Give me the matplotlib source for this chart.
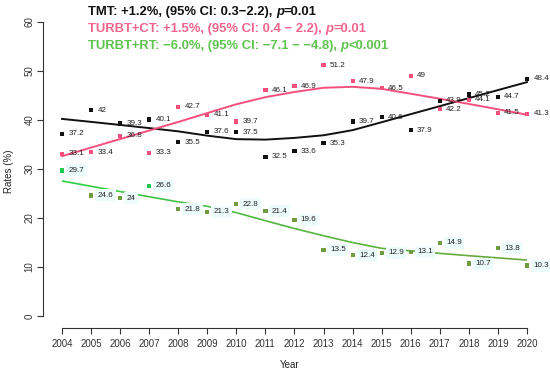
import numpy as np
import matplotlib
matplotlib.use('Agg')
import matplotlib.pyplot as plt
from matplotlib.collections import LineCollection
from matplotlib.colors import to_rgb

years = np.arange(2004, 2021)

tmt = [37.2, 42, 39.3, 40.1, 35.5, 37.6, 37.5, 32.5, 33.6, 35.3,
       39.7, 40.6, 37.9, 43.9, 45.2, 44.7, 48.4]
turbt_ct = [33.1, 33.4, 36.8, 33.3, 42.7, 41.1, 39.7, 46.1, 46.9, 51.2,
            47.9, 46.5, 49, 42.2, 44.1, 41.5, 41.3]
turbt_rt = [29.7, 24.6, 24, 26.6, 21.8, 21.3, 22.8, 21.4, 19.6, 13.5,
            12.4, 12.9, 13.1, 14.9, 10.7, 13.8, 10.3]

title_lines = [
    ['TMT: +1.2%, (95% CI: 0.3\u22122.2), ', 'p', '=0.01'],
    ['TURBT+CT: +1.5%, (95% CI: 0.4 \u2212 2.2), ', 'p', '=0.01'],
    ['TURBT+RT: \u22126.0%, (95% CI: \u22127.1 \u2212 \u22124.8), ', 'p', '<0.001'],
]


def lowess(x, y, f=2 / 3, iters=3):
    # robust locally linear smoother, same idea as R's lowess()
    x = np.asarray(x, float)
    y = np.asarray(y, float)
    n = len(x)
    ns = max(min(int(round(f * n)), n), 2)
    rw = np.ones(n)
    fit = np.zeros(n)
    for it in range(iters + 1):
        for i in range(n):
            d = np.abs(x - x[i])
            h = np.sort(d)[ns - 1]
            u = d / h
            w = np.where(u < 0.999, (1 - u ** 3) ** 3, 0.0)
            w[u <= 0.001] = 1.0
            w = w * rw
            sw = w.sum()
            xm = (w * x).sum() / sw
            ym = (w * y).sum() / sw
            sxx = (w * (x - xm) ** 2).sum()
            b = (w * (x - xm) * (y - ym)).sum() / sxx if sxx > 0 else 0.0
            fit[i] = ym + b * (x[i] - xm)
        if it == iters:
            break
        res = y - fit
        cmad = 6 * np.median(np.abs(res))
        r = np.abs(res) / cmad
        rw = np.where(r < 1, (1 - r ** 2) ** 2, 0.0)
        rw[r <= 0.001] = 1.0
    return fit


black = '#111111'
pink = '#f5507c'
green_hi = '#1fc94f'
green_lo = '#6e9c3e'

fig = plt.figure(figsize=(5.5, 3.71), dpi=100)
ax = fig.add_axes([0.0782, 0.1159, 0.9127, 0.8437])
ax.set_xlim(2003.346, 2020.62)
ax.set_ylim(-2.45, 61.43)

ax.plot(years, lowess(years, tmt), color=black, lw=1.4)
ax.plot(years, lowess(years, turbt_ct), color=pink, lw=1.4)

# green smooth drawn with a colour fade from bright to olive
gfit = lowess(years, turbt_rt)
pts = np.column_stack([years, gfit])
segs = np.stack([pts[:-1], pts[1:]], axis=1)
c0, c1 = np.array(to_rgb('#2ccf45')), np.array(to_rgb('#6aa83c'))
tt = np.linspace(0, 1, len(segs)) ** 0.7
ax.add_collection(LineCollection(segs, colors=[c0 + (c1 - c0) * t for t in tt], lw=1.2))

green_cols = [green_hi if i in (0, 3) else green_lo for i in range(len(years))]
series = [(tmt, [black] * len(years), None),
          (turbt_ct, [pink] * len(years), None),
          (turbt_rt, green_cols, '#ebfcfa')]
for vals, cols, bg in series:
    ax.scatter(years, vals, marker='s', s=9, c=cols, zorder=3, linewidths=0)
    for yr, v in zip(years, vals):
        t = ax.text(yr + 0.22, v, f'{v:g}', fontsize=5.8, va='center',
                    ha='left', color='#222222', family='Liberation Sans')
        if bg:
            t.set_bbox(dict(facecolor=bg, edgecolor='none', pad=1.8))

for s in ['top', 'right']:
    ax.spines[s].set_visible(False)
ax.spines['left'].set_bounds(0, 60)
ax.spines['bottom'].set_bounds(2004, 2020)
ax.spines['left'].set_color('#333333')
ax.spines['bottom'].set_color('#333333')
ax.set_yticks(range(0, 61, 10))
ax.set_xticks(years)
ax.tick_params(length=4, width=0.8, colors='#333333', labelsize=7)
ax.tick_params(axis='y', pad=2)
ax.tick_params(axis='x', pad=4)
for lab in ax.get_yticklabels():
    lab.set_rotation(90)
    lab.set_va('center')
for lab in ax.get_xticklabels() + ax.get_yticklabels():
    lab.set_family('Liberation Sans')
ax.set_ylabel('Rates (%)', fontsize=7, family='Liberation Sans', labelpad=8, color='#222222')
fig.text(290 / 550, 1 - 365 / 371, 'Year', fontsize=7, family='Liberation Sans',
         ha='center', va='center', color='#222222')

# multi-part title lines with italic p
renderer = fig.canvas.get_renderer()
title_cols = ['#111111', '#f2648c', '#5cc44c']
ys = [15, 32, 49]
for parts, col, ypx in zip(title_lines, title_cols, ys):
    xpx = 88
    for j, part in enumerate(parts):
        t = fig.text(xpx / 550, 1 - ypx / 371, part, fontsize=9.4, fontweight='bold',
                     style='italic' if j == 1 else 'normal', color=col,
                     family='Liberation Sans', va='baseline', ha='left')
        xpx += t.get_window_extent(renderer).width

fig.savefig('out.png', dpi=100)
